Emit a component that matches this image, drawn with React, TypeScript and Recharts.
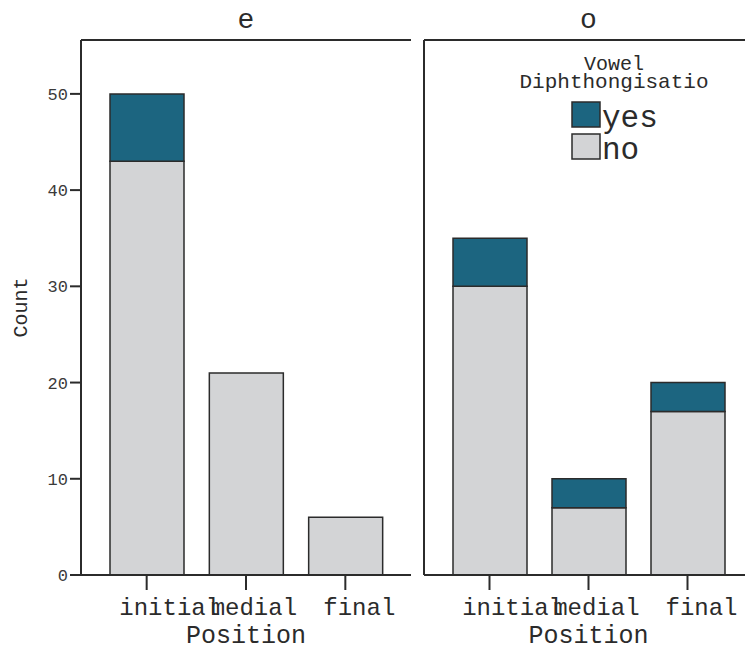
import React from "react";
import { BarChart, Bar, XAxis, YAxis, Legend } from "recharts";

// counts per word position, split by whether the vowel diphthongised
const positions = ["initial", "medial", "final"];
const eNo = [43, 21, 6];
const eYes = [7, 0, 0];
const oNo = [30, 7, 17];
const oYes = [5, 3, 3];
const countTicks = [0, 10, 20, 30, 40, 50];

const MONO = "'Courier New', 'Liberation Mono', monospace";
const INK = "#2b2b2b";
const YES = "#1c6580";
const NO = "#d3d4d6";
const Y_MAX = 55.6;

type Row = { pos: string; no: number; yes: number };

const buildRows = (no: number[], yes: number[]): Row[] =>
  positions.map((pos, i) => ({ pos, no: no[i], yes: yes[i] }));

const eRows = buildRows(eNo, eYes);
const oRows = buildRows(oNo, oYes);

// tick labels get centred with proportional-font widths but drawn in mono,
// which is why "initial" runs into "medial"
let measureCtx: CanvasRenderingContext2D | null = null;
const sansWidth = (s: string, size: number) => {
  if (!measureCtx) measureCtx = document.createElement("canvas").getContext("2d");
  if (!measureCtx) return s.length * size * 0.5;
  measureCtx.font = `${size}px 'Liberation Sans', Arial, sans-serif`;
  return measureCtx.measureText(s).width;
};

const PositionTick = (props: any) => {
  const { x, y, payload } = props;
  const size = 24;
  return (
    <text
      x={x - sansWidth(payload.value, size) / 2}
      y={y + 23}
      fontFamily={MONO}
      fontSize={size}
      fill={INK}
      textAnchor="start"
    >
      {payload.value}
    </text>
  );
};

const renderLegend = (props: any) => {
  const items = [...(props.payload ?? [])].reverse();
  return (
    <svg width={200} height={120} style={{ display: "block", overflow: "visible" }}>
      <text x={100} y={15} textAnchor="middle" fontFamily={MONO} fontSize={20} fill={INK}>
        Vowel
      </text>
      <text x={100} y={33} textAnchor="middle" fontFamily={MONO} fontSize={21} fill={INK}>
        Diphthongisatio
      </text>
      {items.map((it: any, i: number) => (
        <g key={it.value}>
          <rect x={58} y={47 + i * 32} width={28} height={25} fill={it.color} stroke={INK} strokeWidth={1.5} />
          <text x={88} y={72 + i * 32} fontFamily={MONO} fontSize={31} fill={INK}>
            {it.value}
          </text>
        </g>
      ))}
    </svg>
  );
};

const axisStroke = { stroke: INK, strokeWidth: 2 };

const Panel = ({
  title,
  rows,
  width,
  left,
  first,
}: {
  title: string;
  rows: Row[];
  width: number;
  left: number;
  first: boolean;
}) => (
  <div style={{ position: "absolute", left, top: 0 }}>
    <BarChart
      width={width}
      height={655}
      data={rows}
      margin={{ top: 0, right: first ? 9 : 0, bottom: 0, left: 0 }}
    >
      <XAxis
        xAxisId="top"
        orientation="top"
        dataKey="pos"
        height={40}
        tick={false}
        tickLine={false}
        axisLine={axisStroke}
        label={{
          value: title,
          position: "insideBottom",
          offset: 12,
          fontFamily: MONO,
          fontSize: 28,
          fill: INK,
        }}
      />
      <XAxis
        dataKey="pos"
        height={80}
        padding={{ left: 16, right: 16 }}
        tickSize={15}
        tickLine={axisStroke}
        axisLine={axisStroke}
        tick={<PositionTick />}
        interval={0}
        label={{
          value: "Position",
          position: "insideBottom",
          offset: 12,
          fontFamily: MONO,
          fontSize: 25,
          fill: INK,
        }}
      />
      <YAxis
        width={first ? 81 : 20}
        domain={[0, Y_MAX]}
        ticks={countTicks}
        tickSize={11}
        tickLine={first ? axisStroke : false}
        axisLine={axisStroke}
        tick={first ? { fontFamily: MONO, fontSize: 17, fill: "#3a3a3a" } : false}
        label={
          first
            ? {
                value: "Count",
                angle: -90,
                position: "insideLeft",
                offset: 20,
                fontFamily: MONO,
                fontSize: 20,
                fill: INK,
                style: { textAnchor: "middle" },
              }
            : undefined
        }
      />
      <YAxis
        yAxisId="right"
        orientation="right"
        width={0}
        domain={[0, Y_MAX]}
        tick={false}
        tickLine={false}
        axisLine={axisStroke}
      />
      {!first && (
        <Legend
          layout="vertical"
          align="center"
          verticalAlign="middle"
          content={renderLegend}
          wrapperStyle={{ position: "absolute", left: 110, top: 55, width: 200, height: 120 }}
        />
      )}
      <Bar dataKey="no" name="no" stackId="a" fill={NO} stroke={INK} strokeWidth={1.5} barSize={74} isAnimationActive={false} />
      <Bar dataKey="yes" name="yes" stackId="a" fill={YES} stroke={INK} strokeWidth={1.5} barSize={74} isAnimationActive={false} />
    </BarChart>
  </div>
);

export default function App() {
  return (
    <div
      style={{
        position: "fixed",
        left: 0,
        top: 0,
        width: 745,
        height: 655,
        overflow: "hidden",
        background: "#fff",
      }}
    >
      <Panel title="e" rows={eRows} width={420} left={0} first />
      <Panel title="o" rows={oRows} width={349} left={404} first={false} />
    </div>
  );
}
